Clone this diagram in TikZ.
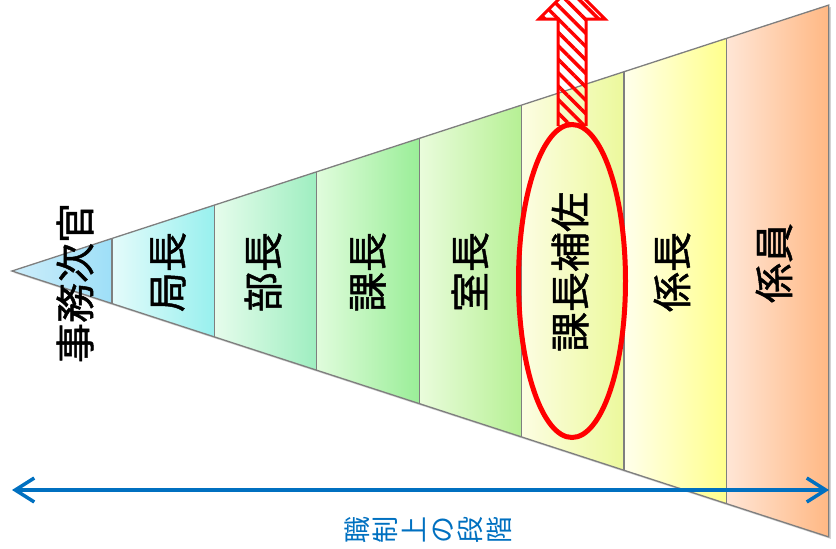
\documentclass[tikz,border=0pt]{standalone}
\usepackage{fontspec}
\newfontfamily\jpfont{Noto Sans CJK JP}
\newfontfamily\jpheavy[FakeBold=1.2]{Noto Sans CJK JP}
\usepackage{tikz}
\usepackage{xcolor}
\usetikzlibrary{shapes.geometric, arrows.meta, patterns.meta, shadows}
\definecolor{RankBlue}{HTML}{0070C0}
\definecolor{RankOutline}{HTML}{7F7F7F}
\definecolor{FocusRed}{HTML}{FF0000}
\definecolor{ViceL}{HTML}{CDEDFA}
\definecolor{ViceR}{HTML}{9EDFF8}
\definecolor{BureauL}{HTML}{E4FBFB}
\definecolor{BureauR}{HTML}{98F0EE}
\definecolor{DeptL}{HTML}{E6FCEC}
\definecolor{DeptR}{HTML}{9EEEC0}
\definecolor{SectionL}{HTML}{E0FCDC}
\definecolor{SectionR}{HTML}{9AEE98}
\definecolor{OfficeL}{HTML}{EAFCDC}
\definecolor{OfficeR}{HTML}{B6F094}
\definecolor{DeputyL}{HTML}{FCFDE2}
\definecolor{DeputyR}{HTML}{ECF99C}
\definecolor{ChiefL}{HTML}{FFFFEC}
\definecolor{ChiefR}{HTML}{FFFF8C}
\definecolor{StaffL}{HTML}{FFE6D6}
\definecolor{StaffR}{HTML}{FFB884}
\tikzset{
    % Band styles
    bandedge/.style={
        draw=RankOutline,
        line width=1.3pt
    },
    % Label styles
    ranklabel/.style={
        rotate=90,
        inner sep=0pt,
        text=black,
        font=\jpheavy\fontsize{40}{44}\selectfont
    },
    scalelabel/.style={
        rotate=90,
        inner sep=0pt,
        align=center,
        text=RankBlue,
        font=\jpfont\fontsize{27}{28.4}\selectfont
    },
    % Highlight styles
    focusring/.style={
        ellipse,
        draw=FocusRed,
        line width=5pt,
        inner sep=0pt,
        minimum width=107pt,
        minimum height=313pt
    },
    hatcharrow/.style={
        draw=FocusRed,
        line width=3pt,
        pattern={Lines[angle=-45,distance=9.5pt,line width=3.5pt]},
        pattern color=FocusRed
    },
    % Arrow styles
    rangearrow/.style={
        {Straight Barb[length=19pt,width=24pt]}-{Straight Barb[length=19pt,width=24pt]},
        draw=RankBlue,
        line width=3.5pt
    }
}

\begin{document}
\begin{tikzpicture}[x=1pt, y=-1pt]
    \clip (0,0) rectangle (836,549);

    % Pyramid body
    \path[fill=white, drop shadow={shadow xshift=2pt, shadow yshift=-2pt, opacity=0.35}]
        (12,271) -- (828.8,5.05) -- (828.8,536.95) -- cycle;
    \foreach \xa/\xb/\cl/\cr in {12/112/ViceL/ViceR, 112/214.4/BureauL/BureauR,
        214.4/316.8/DeptL/DeptR, 316.8/419.2/SectionL/SectionR,
        419.2/521.6/OfficeL/OfficeR, 521.6/624/DeputyL/DeputyR,
        624/726.4/ChiefL/ChiefR, 726.4/828.8/StaffL/StaffR}
        \fill[left color=\cl, right color=\cr]
            (\xa,{271-0.3256*(\xa-12)}) -- (\xb,{271-0.3256*(\xb-12)})
            -- (\xb,{271+0.3256*(\xb-12)}) -- (\xa,{271+0.3256*(\xa-12)}) -- cycle;
    \foreach \xb in {112,214.4,316.8,419.2,521.6,624,726.4}
        \draw[bandedge] (\xb,{271-0.3256*(\xb-12)}) -- (\xb,{271+0.3256*(\xb-12)});
    \draw[bandedge] (12,271) -- (828.8,5.05) -- (828.8,536.95) -- cycle;

    % Rank labels
    \node[ranklabel] (vice) at (75,283) {事務次官};
    \node[ranklabel] (bureau) at (168,272) {局長};
    \node[ranklabel] (dept) at (263,272) {部長};
    \node[ranklabel] (section) at (368,272) {課長};
    \node[ranklabel] (office) at (470,272) {室長};
    \node[ranklabel] (deputy) at (570,272) {課長補佐};
    \node[ranklabel] (chief) at (672,272) {係長};
    \node[ranklabel] (staff) at (774,263) {係員};

    % Highlight
    \coordinate (arrowfoot) at (572,126);
    \draw[hatcharrow] (arrowfoot) ++(-14,0) -- ++(0,-107) -- ++(-19,0)
        -- ++(33,-33) -- ++(33,33) -- ++(-19,0) -- ++(0,107);
    \node[focusring] (focus) at (572,281) {};

    % Scale
    \coordinate (scaleL) at (12,490);
    \coordinate (scaleR) at (829,490);
    \draw[rangearrow] (scaleL) -- (scaleR);
    \node[scalelabel] (scale) at (428,530) {職\\制\\上\\の\\段\\階};
\end{tikzpicture}
\end{document}
